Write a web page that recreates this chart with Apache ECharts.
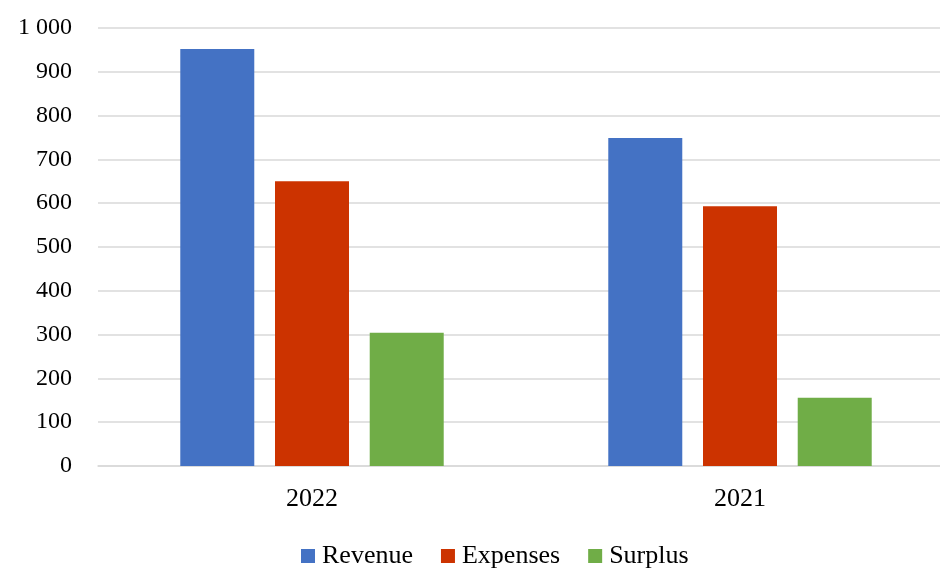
<!DOCTYPE html>
<html><head><meta charset="utf-8">
<script src="https://cdn.jsdelivr.net/npm/echarts@6/dist/echarts.min.js"></script>
<style>html,body{margin:0;padding:0;background:#fff;overflow:hidden;width:940px;height:569px}#c{width:960px;height:569px}</style>
</head><body><div id="c"></div>
<script>
const categories = ['2022', '2021'];
const revenue = [952, 749];
const expenses = [650, 593];
const surplus = [304, 156];
const yTicks = [0, 100, 200, 300, 400, 500, 600, 700, 800, 900, 1000];

const font = '"Liberation Serif", "Times New Roman", serif';
const chart = echarts.init(document.getElementById('c'), null, {renderer: 'canvas'});
const mk = (name, data, color) => ({
  name, type: 'bar', data, barWidth: 74, barGap: '28%',
  itemStyle: {color}
});
chart.setOption({
  animation: false,
  textStyle: {fontFamily: font},
  grid: {left: 98, width: 856, top: 28, bottom: 103},
  legend: {
    top: 543, left: 301, itemWidth: 14, itemHeight: 14, itemGap: 28,
    icon: 'rect', padding: 0,
    textStyle: {fontFamily: font, fontSize: 26, color: '#000', padding: [0, 0, 0, 2]},
    data: ['Revenue', 'Expenses', 'Surplus']
  },
  xAxis: {
    type: 'category', data: categories,
    axisLine: {show: true, lineStyle: {color: '#d9d9d9', width: 1.5}},
    axisTick: {show: false},
    axisLabel: {fontFamily: font, fontSize: 26, color: '#000', margin: 20}
  },
  yAxis: {
    type: 'value', min: 0, max: 1000, interval: 100,
    axisLine: {show: false}, axisTick: {show: false},
    splitLine: {lineStyle: {color: '#d9d9d9', width: 1.5}},
    axisLabel: {
      fontFamily: font, fontSize: 24, color: '#000', margin: 26,
      formatter: v => yTicks.includes(v) ? String(v).replace(/\B(?=(\d{3})+(?!\d))/g, ' ') : ''
    }
  },
  series: [
    mk('Revenue', revenue, '#4472C4'),
    mk('Expenses', expenses, '#CC3300'),
    mk('Surplus', surplus, '#70AD47')
  ]
});
</script></body></html>
